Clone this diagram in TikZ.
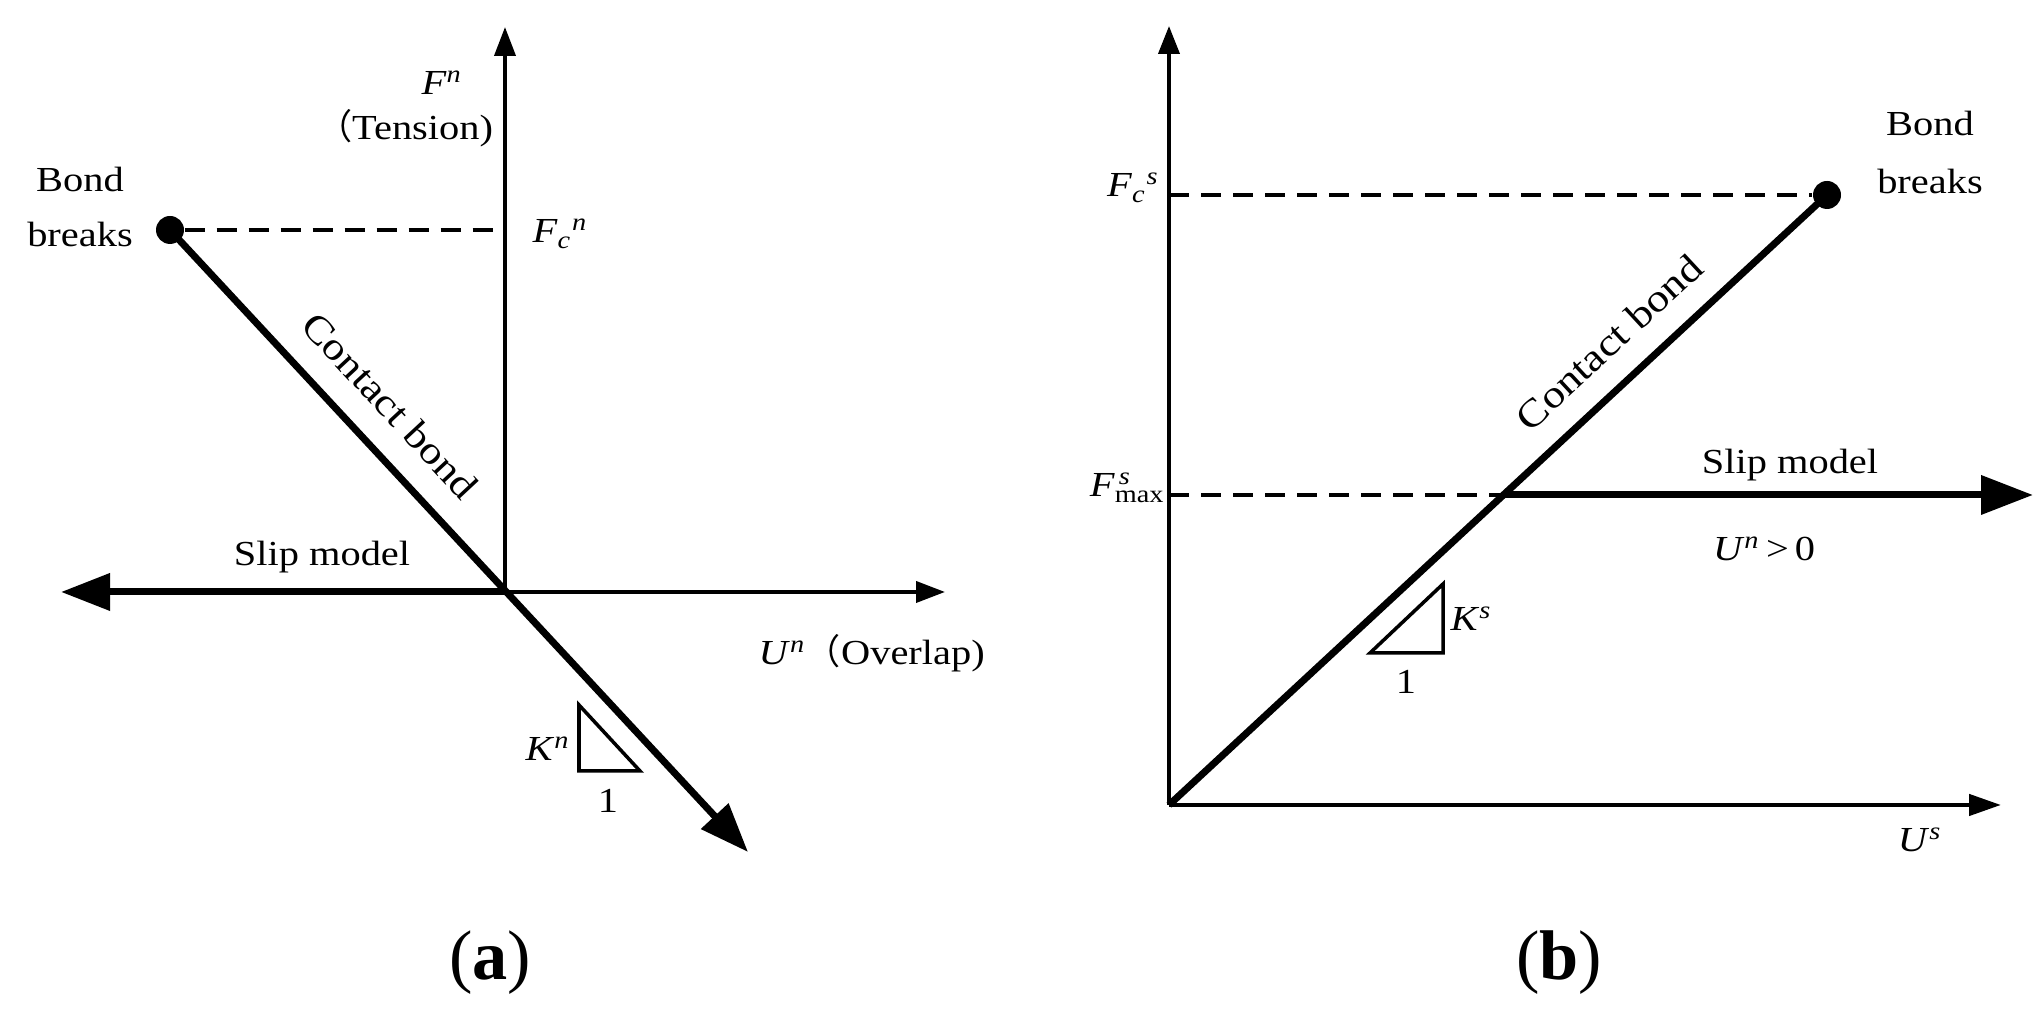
\documentclass[tikz,border=0pt]{standalone}
\usepackage{fontspec}
\setmainfont[FakeStretch=1.15]{Liberation Serif}
\newfontfamily\capfont{Liberation Serif}
\newfontfamily\cjk{Noto Sans CJK SC}
\usetikzlibrary{arrows.meta, positioning, calc}
\newcommand{\iv}[1]{\textit{#1}}

\begin{document}
\begin{tikzpicture}[
    axis/.style={line width=1.1pt},
    bond/.style={line width=2pt},
    smalltip/.style={-{Triangle[length=2.9mm,width=2.1mm]}},
    bigtip/.style={-{Triangle[length=4.9mm,width=3.6mm]}},
    guide/.style={line width=1.1pt, dash pattern=on 2mm off 1.2mm},
    lbl/.style={inner sep=0pt, font=\fontsize{10}{12}\selectfont},
    dot/.style={circle, fill, inner sep=0pt, minimum size=2.8mm}]
  \useasboundingbox (0,0) rectangle (20.4,10.2);

  % (a) normal direction
  \coordinate (Oa) at (5.05,4.28);
  \coordinate (FnTip) at (5.05,9.93);
  \coordinate (UnTip) at (9.45,4.28);
  \coordinate (SlipA) at (0.61,4.28);
  \coordinate (FcnA) at (5.05,7.90);
  \coordinate (KnTip) at (7.48,1.68);
  \node[dot] (breakA) at (1.70,7.90) {};

  \draw[axis, smalltip] (Oa) -- (FnTip);
  \draw[axis, smalltip] (Oa) -- (UnTip);
  \draw[guide] (breakA) -- (FcnA);
  \draw[bond, bigtip] (Oa) -- (SlipA);
  \draw[bond, bigtip] (breakA.center) -- node[lbl, sloped, above=2.5mm, pos=0.328, font=\fontsize{11}{13}\selectfont] (contactA) {Contact bond} (KnTip);
  \draw[line width=1pt] (5.79,3.15) -- (5.79,2.49) -- (6.40,2.49) -- cycle;

  \node[lbl, anchor=base] (Fn) at (4.42,9.25) {\iv{F\/}\textsuperscript{\iv{n}}};
  \node[lbl, anchor=base] (tension) at (4.05,8.80) {{\cjk （}Tension)};
  \node[lbl, anchor=base west] (Fcn) at (5.32,7.77) {\iv{F}\textsubscript{\iv{c}}\textsuperscript{\iv{n}}};
  \node[lbl, anchor=base] (bondA) at (0.80,8.28) {Bond};
  \node[lbl, anchor=base] (breaksA) at (0.80,7.73) {breaks};
  \node[lbl, anchor=base] (slipA) at (3.22,4.54) {Slip model};
  \node[lbl, anchor=base west] (Un) at (7.58,3.55) {\iv{U}\textsuperscript{\iv{n}}{\cjk （}Overlap)};
  \node[lbl, anchor=base east] (Kn) at (5.71,2.59) {\iv{K}\textsuperscript{\iv{n}}};
  \node[lbl, anchor=base] (oneA) at (6.08,2.07) {1};
  \node[anchor=base, font=\capfont\fontsize{20}{24}\selectfont] (capA) at (4.90,0.40) {(\textbf{a})};

  % (b) shear direction
  \coordinate (Ob) at (11.69,2.15);
  \coordinate (FsTip) at (11.69,9.94);
  \coordinate (UsTip) at (20.01,2.15);
  \coordinate (FcsB) at (11.69,8.25);
  \coordinate (FmaxB) at (11.69,5.25);
  \coordinate (yieldB) at (15.03,5.25);
  \coordinate (SlipB) at (20.33,5.25);
  \node[dot] (breakB) at (18.27,8.25) {};

  \draw[axis, -{Triangle[length=2.8mm,width=2.1mm]}] (Ob) -- (FsTip);
  \draw[axis, line width=1.3pt, -{Triangle[length=3.2mm,width=2.1mm]}] (Ob) -- (UsTip);
  \draw[guide] (FcsB) -- (breakB);
  \draw[guide] (FmaxB) -- (yieldB);
  \draw[bond] (Ob) -- node[lbl, sloped, above=2.3mm, pos=0.71, font=\fontsize{11}{13}\selectfont] (contactB) {Contact bond} (breakB.center);
  \draw[bond, -{Triangle[length=5.2mm,width=3.8mm]}] (yieldB) -- (SlipB);
  \draw[line width=1pt] (13.70,3.67) -- (14.43,3.67) -- (14.43,4.36) -- cycle;

  \node[lbl, anchor=base east] (Fcs) at (11.60,8.23) {\iv{F}\textsubscript{\iv{c}}\textsuperscript{\iv{s}}};
  \node[lbl, anchor=base east] (Fmax) at (11.66,5.23) {\iv{F\/}\rlap{\textsuperscript{\,\iv{s}}}\textsubscript{max}};
  \node[lbl, anchor=base] (bondB) at (19.30,8.84) {Bond};
  \node[lbl, anchor=base] (breaksB) at (19.30,8.26) {breaks};
  \node[lbl, anchor=base] (slipB) at (17.90,5.46) {Slip model};
  \node[lbl, anchor=base] (UnPos) at (17.64,4.59) {\iv{U}\textsuperscript{\iv{n}}\,>\,0};
  \node[lbl, anchor=base west] (Ks) at (14.50,3.89) {\iv{K}\textsuperscript{\iv{s}}};
  \node[lbl, anchor=base] (oneB) at (14.06,3.26) {1};
  \node[lbl, anchor=base] (Us) at (19.20,1.68) {\iv{U}\textsuperscript{\iv{s}}};
  \node[anchor=base, font=\capfont\fontsize{20}{24}\selectfont] (capB) at (15.59,0.40) {(\textbf{b})};
\end{tikzpicture}
\end{document}
